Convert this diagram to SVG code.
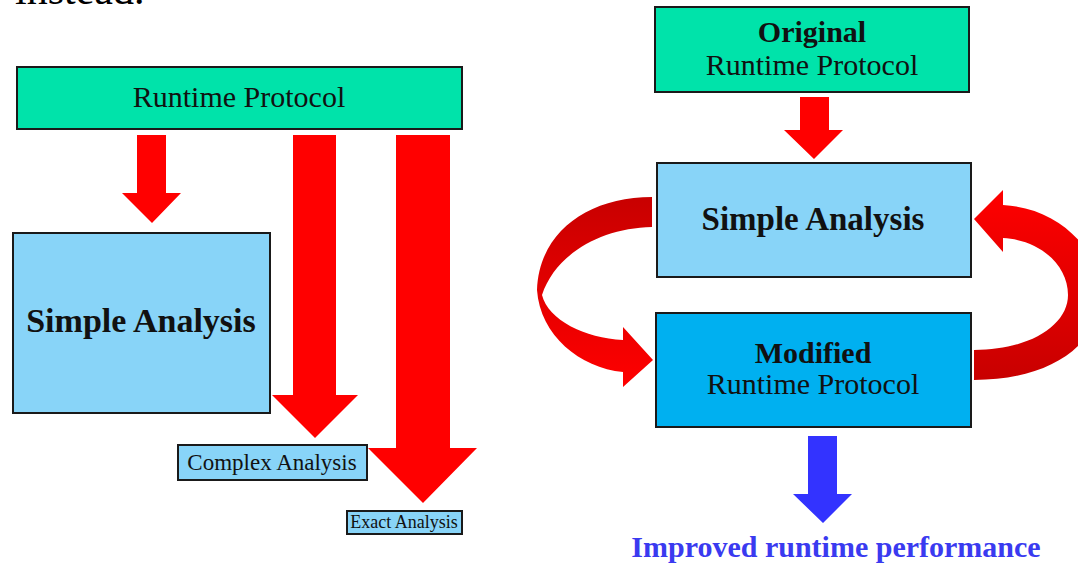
<svg xmlns="http://www.w3.org/2000/svg" width="1078" height="564" viewBox="0 0 1078 564">
<style>
.box{stroke:#1a1a1a;stroke-width:2}
.green{fill:#00E3AA}
.light{fill:#88D4F8}
.blue{fill:#00B0F0}
.t{font-family:"Liberation Serif","Times New Roman",serif;fill:#111;text-anchor:middle}
.b{font-weight:bold}
.red{fill:#FF0000}
</style>
<defs>
<linearGradient id="gl" x1="0" y1="0" x2="0" y2="1">
<stop offset="0" stop-color="#C80000"/>
<stop offset="1" stop-color="#FF0000"/>
</linearGradient>
<linearGradient id="gr" x1="0" y1="1" x2="0" y2="0">
<stop offset="0" stop-color="#C80000"/>
<stop offset="1" stop-color="#FF0000"/>
</linearGradient>
</defs>
<rect width="1078" height="564" fill="#fff"/>
<text x="15" y="4" font-family="Liberation Serif,serif" font-size="42" fill="#000">instead.</text>

<g id="connectors">
<polygon class="red" points="137,135 166,135 166,193 181,193 152,223 122,193 137,193"/>
<polygon class="red" points="293,135 336,135 336,395 358,395 315,438 272,395 293,395"/>
<polygon class="red" points="396,135 450,135 450,448 477,448 423,503 368,448 396,448"/>
<polygon class="red" points="800,97 829,97 829,130 843,130 814,159 784,130 800,130"/>
<path fill="url(#gl)" d="M652,197 C588,197 539,232 537,290 C540,335 580,368 623,372 L623,387 L653,360 L623,327 L623,340 C585,338 548,320 542,295 C555,255 600,228 652,227 Z"/>
<path fill="url(#gr)" d="M974,350 C1030,350 1068,325 1068,295 C1068,265 1040,240 1003,238 L1003,252 L974,219 L1003,190 L1003,205 C1060,208 1100,250 1100,295 C1100,345 1050,380 974,380 Z"/>
<polygon fill="#3333FF" points="808,436 837,436 837,494 852,494 823,523 793,494 808,494"/>
</g>

<g id="runtime-protocol">
<rect class="box green" x="17" y="67" width="445" height="62"/>
<text class="t" x="239" y="107" font-size="30">Runtime Protocol</text>
</g>
<g id="simple-analysis-left">
<rect class="box light" x="13" y="233" width="257" height="180"/>
<text class="t b" x="141" y="332" font-size="34">Simple Analysis</text>
</g>
<g id="complex-analysis">
<rect class="box light" x="178" y="445" width="189" height="35"/>
<text class="t" x="272" y="470" font-size="23">Complex Analysis</text>
</g>
<g id="exact-analysis">
<rect class="box light" x="347" y="511" width="115" height="23"/>
<text class="t" x="404" y="528" font-size="18">Exact Analysis</text>
</g>
<g id="original">
<rect class="box green" x="655" y="7" width="314" height="85"/>
<text class="t b" x="812" y="42" font-size="30">Original</text>
<text class="t" x="812" y="75" font-size="30">Runtime Protocol</text>
</g>
<g id="simple-analysis-right">
<rect class="box light" x="657" y="163" width="314" height="114"/>
<text class="t b" x="813" y="230" font-size="33">Simple Analysis</text>
</g>
<g id="modified">
<rect class="box blue" x="656" y="313" width="315" height="114"/>
<text class="t b" x="813" y="363" font-size="30">Modified</text>
<text class="t" x="813" y="394" font-size="30">Runtime Protocol</text>
</g>
<g id="result">
<text class="t b" x="836" y="557" font-size="30" style="fill:#3A3AF0">Improved runtime performance</text>
</g>
</svg>
